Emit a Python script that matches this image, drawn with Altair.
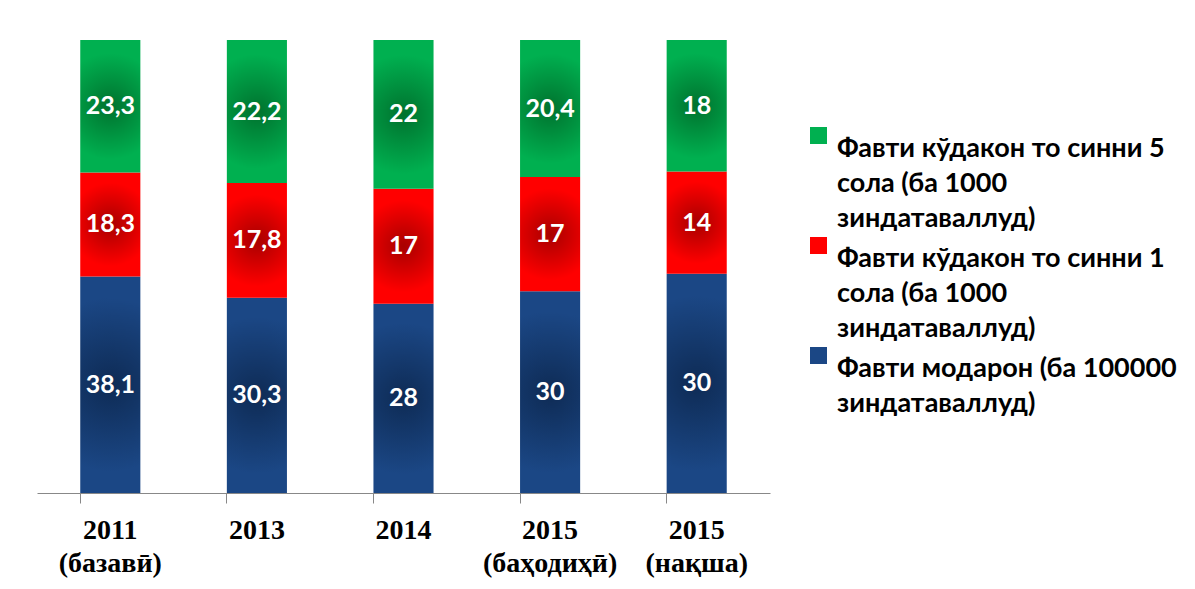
import altair as alt
import pandas as pd

years = ["2011|(базавӣ)", "2013", "2014", "2015|(баҳодиҳӣ)", "2015|(нақша)"]
maternal = [38.1, 30.3, 28, 30, 30]
under1 = [18.3, 17.8, 17, 17, 14]
under5 = [23.3, 22.2, 22, 20.4, 18]

s_mat = "Фавти модарон (ба 100000|зиндатаваллуд)"
s_u1 = "Фавти кўдакон то синни 1|сола (ба 1000|зиндатаваллуд)"
s_u5 = "Фавти кўдакон то синни 5|сола (ба 1000|зиндатаваллуд)"
series = [s_mat, s_u1, s_u5]
edge_colors = ["#1B4785", "#FF0000", "#00B050"]
center_colors = ["#0E2B55", "#A80000", "#00722E"]

rows = []
for i, y in enumerate(years):
    for k, (s, vals) in enumerate(zip(series, [maternal, under1, under5])):
        rows.append({"year": y, "series": s, "value": vals[i], "order": k})
df = pd.DataFrame(rows)

base = alt.Chart(df).transform_stack(
    stack="value", groupby=["year"], as_=["y0", "y1"], offset="normalize",
    sort=[alt.SortField("order", order="ascending")]
).transform_calculate(
    ymid="(datum.y0 + datum.y1) / 2",
    label="replace(toString(datum.value), '.', ',')"
)

xenc = alt.X("year:N", sort=years, title=None,
             scale=alt.Scale(paddingInner=0.59, paddingOuter=0.295),
             axis=alt.Axis(labelExpr="split(datum.label, '|')", labelAngle=0,
                           labelFont="Liberation Serif", labelFontWeight="bold",
                           labelFontSize=28, labelColor="#000000", labelLineHeight=33,
                           labelPadding=13, tickSize=10, bandPosition=0,
                           domainColor="#888888", tickColor="#888888",
                           labelBaseline="top"))
yscale = alt.Scale(domain=[0, 1])

layers = []
for k, s in enumerate(series):
    grad = alt.Gradient(gradient="radial", x1=0.5, y1=0.5, r1=0, x2=0.5, y2=0.5, r2=0.5,
                        stops=[alt.GradientStop(offset=0, color=center_colors[k]),
                               alt.GradientStop(offset=0.8, color=edge_colors[k]),
                               alt.GradientStop(offset=1, color=edge_colors[k])])
    layers.append(base.transform_filter(alt.datum.series == s).mark_bar(fill=grad).encode(
        x=xenc,
        y=alt.Y("y0:Q", scale=yscale, axis=None),
        y2="y1:Q"
    ))

text = base.mark_text(color="white", font="Lato", fontWeight="bold", fontSize=25).encode(
    x=xenc, y=alt.Y("ymid:Q", scale=yscale, axis=None), text="label:N"
)

legend_layer = base.mark_point(filled=True, shape="square", opacity=0).encode(
    x=xenc, y=alt.Y("ymid:Q", scale=yscale, axis=None),
    color=alt.Color("series:N",
                    scale=alt.Scale(domain=[s_u5, s_u1, s_mat],
                                    range=[edge_colors[2], edge_colors[1], edge_colors[0]]),
                    legend=alt.Legend(title=None, orient="none", legendX=768, legendY=82,
                                      labelExpr="split(datum.label, '|')",
                                      labelFont="Lato", labelFontWeight="bold",
                                      labelFontSize=27, labelColor="#000000",
                                      labelLimit=500, symbolType="square", symbolSize=289,
                                      symbolOpacity=1, symbolStrokeWidth=0,
                                      labelBaseline="top", labelOffset=5, rowPadding=0))
)

chart = alt.layer(*layers, text, legend_layer).properties(
    width=733, height=453,
    padding={"left": 29, "top": 32, "right": 5, "bottom": 5}
).configure(
    view=alt.ViewConfig(stroke=None),
    style={"guide-label": {"lineHeight": 35}}
)

chart.save("out.html", embed_options={"renderer": "svg", "actions": False})
